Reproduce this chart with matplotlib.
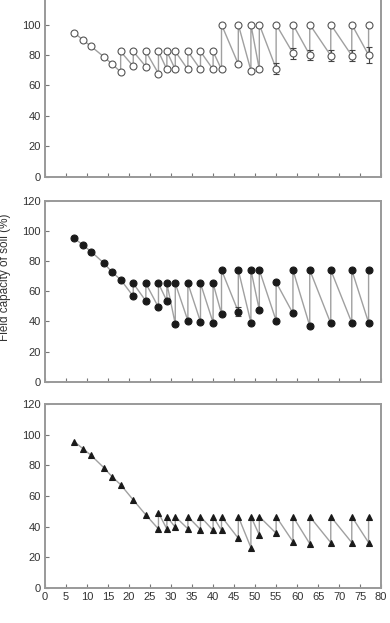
import matplotlib
matplotlib.use("Agg")
import matplotlib.pyplot as plt
import numpy as np

plt.rcParams['font.family'] = ['Liberation Sans', 'DejaVu Sans']

nan = np.nan

# days after sowing (irrigation days get two points: before / after)
days = [7, 9, 11, 14, 16, 18, 21, 24, 27, 29, 31, 34, 37, 40, 42, 46, 49, 51, 55, 59, 63, 68, 73, 77]

# top panel (open circles)
top_before = [94.5, 89.9, 85.6, 78.8, 74.0, 68.9, 72.6, 72.4, 67.8, 70.5, 70.5, 70.5, 70.5, 70.5,
              70.5, 74.0, 69.8, 70.5, 71.0, 81.2, 80.0, 79.6, 79.6, 80.0]
top_after = [nan, nan, nan, nan, nan, 82.3, 82.3, 82.3, 82.3, 82.3, 82.3, 82.3, 82.3, 82.3,
             100, 100, 100, 100, 100, 100, 100, 100, 100, 100]
top_err = [0, 0, 0, 0, 0, 0, 0, 0, 0, 0, 0, 0, 0, 0,
           0, 1.0, 1.0, 1.0, 3.5, 3.6, 3.4, 3.5, 3.5, 5.3]

# middle panel (filled circles)
mid_before = [95.2, 90.8, 86.3, 78.8, 72.6, 67.8, 56.7, 53.6, 49.4, 53.6, 38.3, 40.5, 39.8, 39.2,
              45.0, 46.5, 39.2, 47.6, 40.5, 45.4, 37.0, 38.7, 39.2, 39.2]
mid_after = [nan, nan, nan, nan, nan, nan, 65.3, 65.3, 65.3, 65.3, 65.3, 65.3, 65.3, 65.3,
             74.2, 74.2, 74.2, 74.2, 66.0, 74.2, 74.2, 74.2, 74.2, 74.2]
mid_err = [0, 0, 0, 0, 0, 0, 0, 0, 0, 0, 0, 0, 0, 0,
           0, 3.0, 0, 0, 0, 0, 1.5, 0, 0, 0]

# bottom panel (triangles)
bot_before = [95.5, 91.0, 86.5, 78.5, 72.5, 67.4, 57.4, 47.6, 38.4, 38.4, 39.5, 38.5, 38.0, 37.5,
              37.5, 32.3, 26.2, 34.5, 35.6, 30.1, 28.8, 29.5, 29.5, 29.5]
bot_after = [nan, nan, nan, nan, nan, nan, nan, nan, 49.0, 46.5, 46.5, 46.5, 46.5, 46.5,
             46.5, 46.5, 46.5, 46.5, 46.5, 46.5, 46.5, 46.5, 46.5, 46.5]
bot_err = [0] * 24

y_ticks = [0, 20, 40, 60, 80, 100, 120]


def path(before, after):
    xs, ys = [], []
    for d, b, a in zip(days, before, after):
        xs.append(d)
        ys.append(b)
        if not np.isnan(a):
            xs.append(d)
            ys.append(a)
    return xs, ys


fig = plt.figure(figsize=(3.9, 6.23), dpi=100)

left, width = 0.1154, 0.862
panels = [
    (0.716, 0.2936, top_before, top_after, top_err, 'o', 'white', '#555555'),
    (0.3873, 0.2901, mid_before, mid_after, mid_err, 'o', '#1a1a1a', '#1a1a1a'),
    (0.0567, 0.2944, bot_before, bot_after, bot_err, '^', '#1a1a1a', '#1a1a1a'),
]

axes = []
for bottom, height, before, after, err, mk, fc, ec in panels:
    ax = fig.add_axes([left, bottom, width, height])
    xs, ys = path(before, after)
    ax.plot(xs, ys, color='#a0a0a0', lw=1.0, zorder=1)
    # error bars on the pre-irrigation values
    ex = [d for d, e in zip(days, err) if e > 0]
    ey = [b for b, e in zip(before, err) if e > 0]
    ee = [e for e in err if e > 0]
    if ex:
        ax.errorbar(ex, ey, yerr=ee, fmt='none', ecolor='#444444', elinewidth=0.8,
                    capsize=2, capthick=0.8, zorder=2)
    ax.plot(xs, ys, linestyle='none', marker=mk, markersize=5.0 if mk == 'o' else 4.6,
            markerfacecolor=fc, markeredgecolor=ec, markeredgewidth=0.8, zorder=3)

    ax.set_xlim(0, 80)
    ax.set_ylim(0, 120)
    ax.set_xticks(np.arange(0, 81, 5))
    ax.set_yticks(y_ticks)
    ax.tick_params(direction='in', length=3, width=0.8, color='#777777',
                   labelsize=8, labelcolor='#333333', pad=3)
    for s in ax.spines.values():
        s.set_color('#999999')
        s.set_linewidth(1.4)
    axes.append(ax)

axes[0].tick_params(labelbottom=False)
axes[1].tick_params(labelbottom=False)
# top of the first panel lies above the figure edge, so its 120 label is not shown
axes[0].set_yticklabels([str(t) if t < 120 else '' for t in y_ticks])

fig.text(0.014, 0.555, 'Field capacity of soil (%)', rotation=90, ha='center', va='center',
         fontsize=8.5, color='#333333')

fig.savefig('out.png', dpi=100)
